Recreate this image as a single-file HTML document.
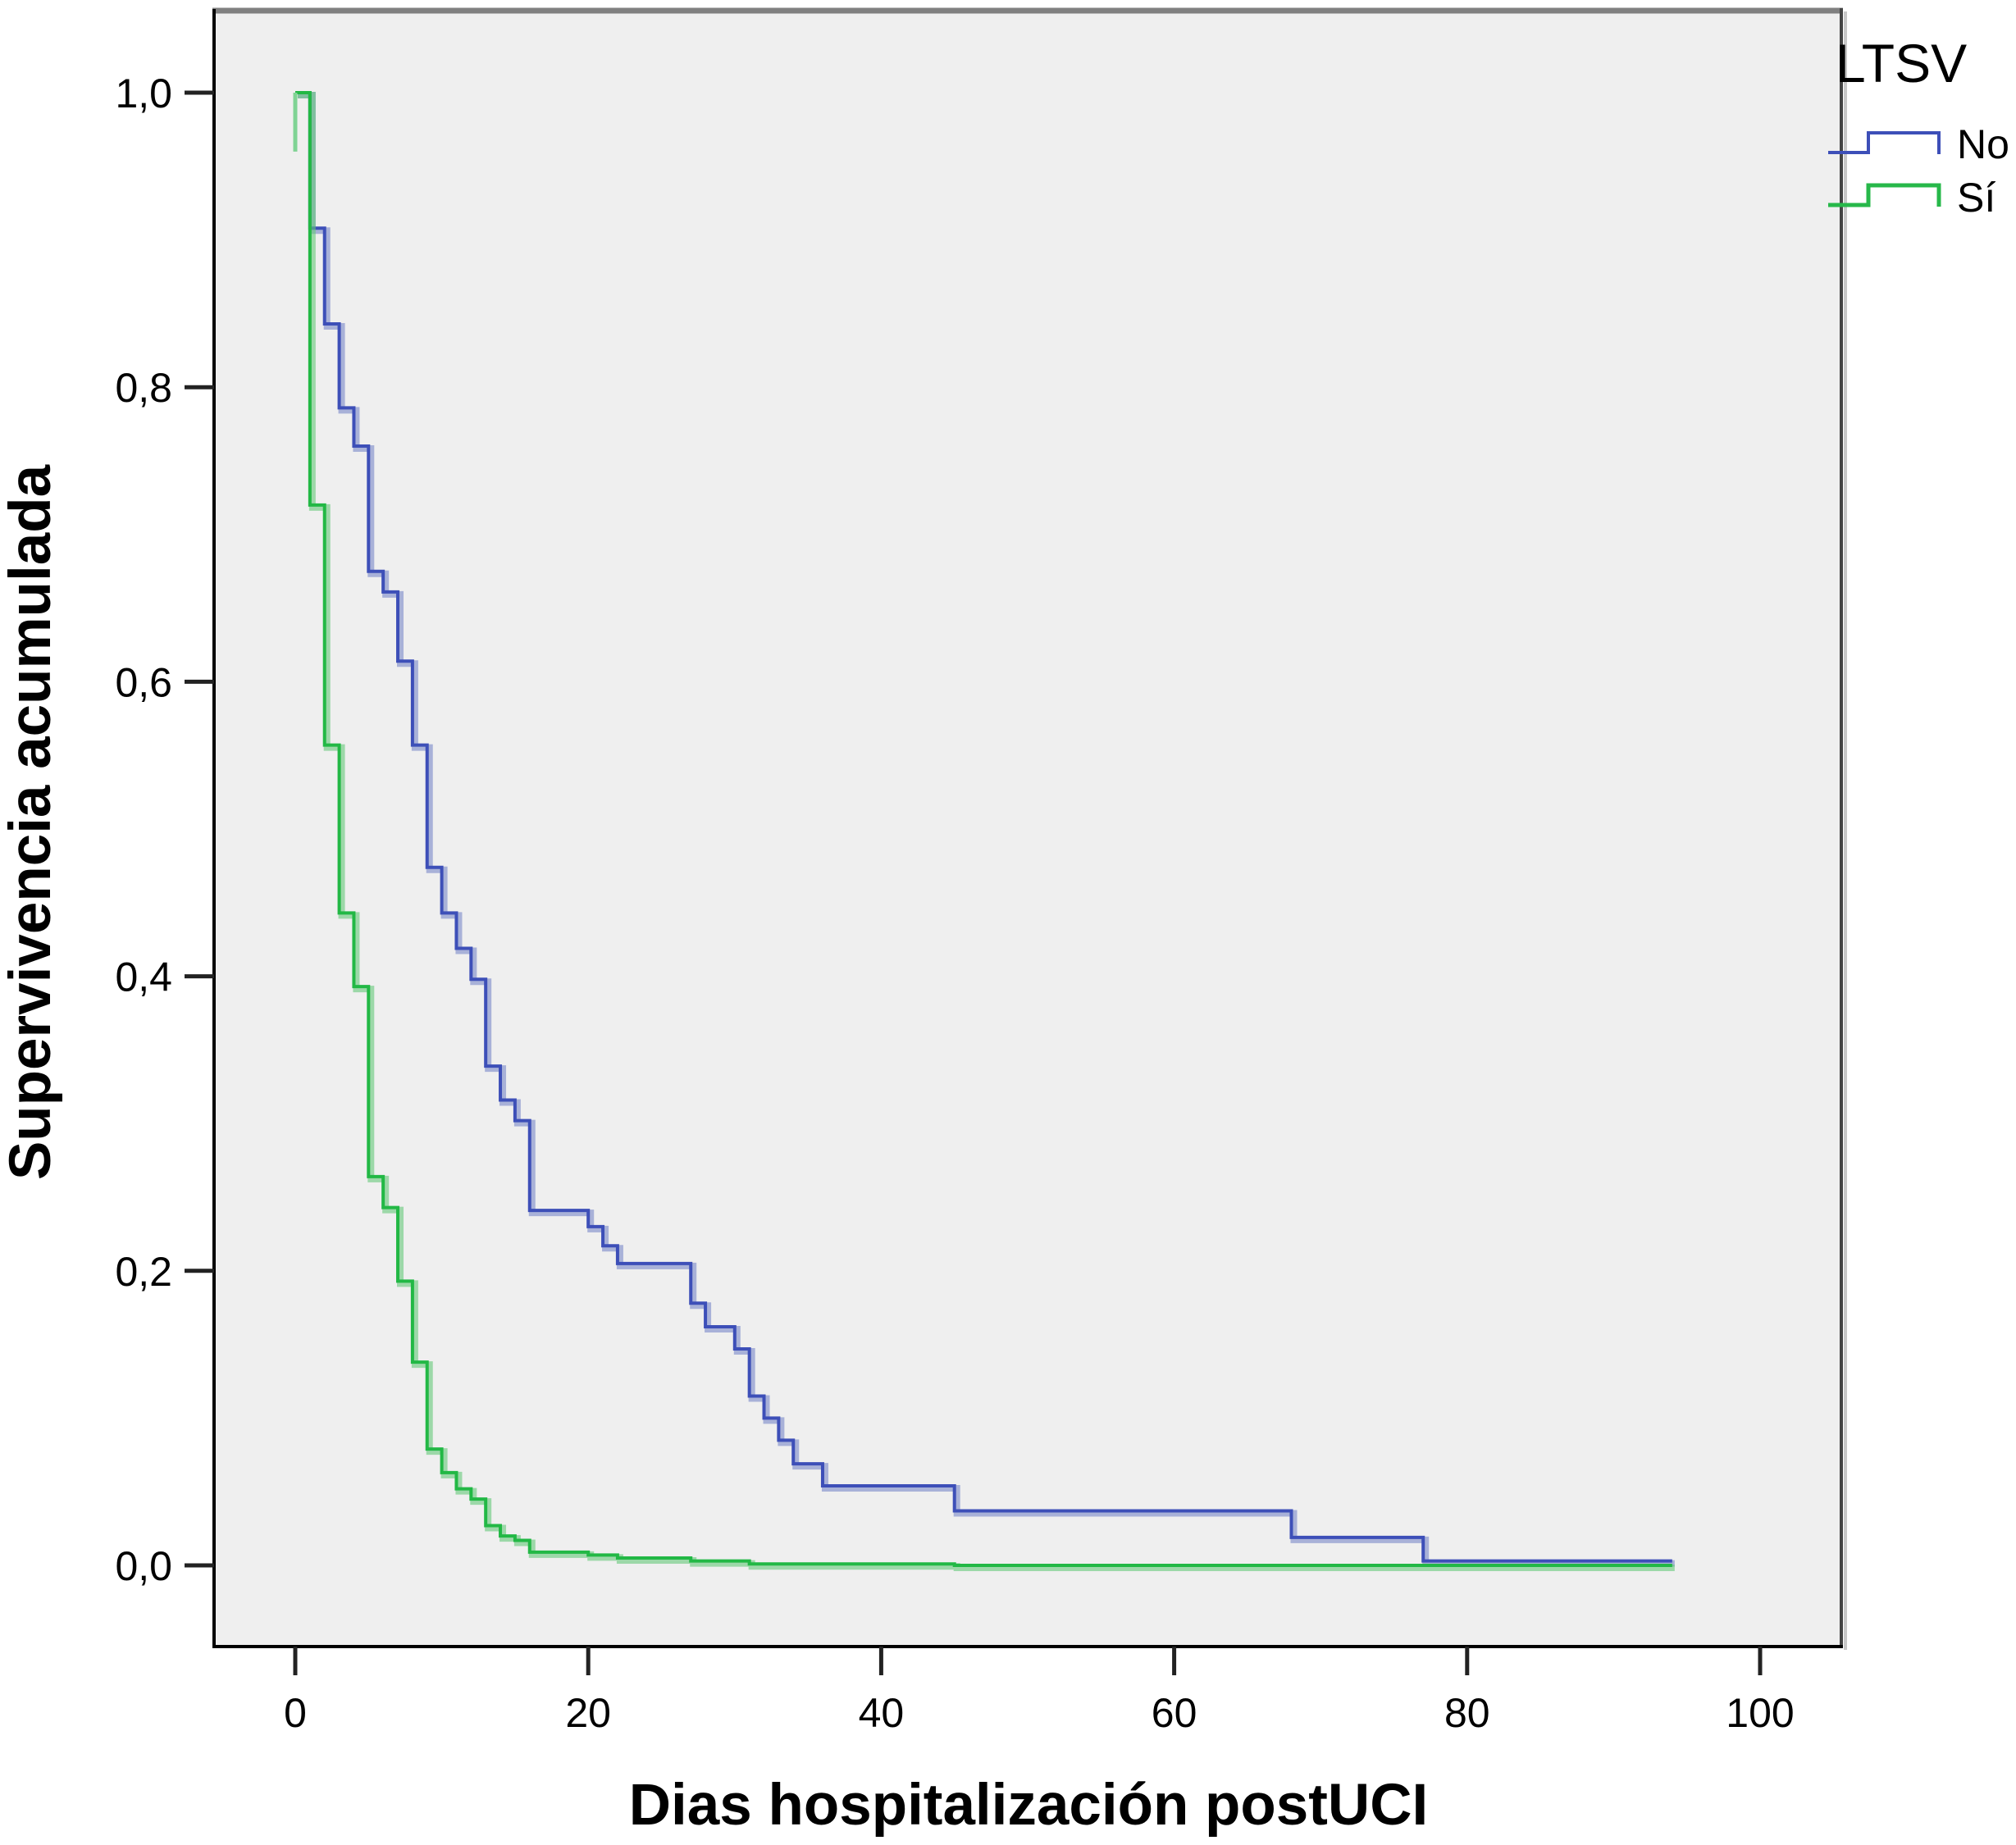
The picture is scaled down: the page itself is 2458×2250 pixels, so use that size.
<!DOCTYPE html>
<html><head><meta charset="utf-8"><style>
html,body{margin:0;padding:0;background:#fff;}
svg{display:block;}
text{font-family:"Liberation Sans",sans-serif;fill:#000;}
</style></head><body>
<svg id="chart" width="2458" height="2250" viewBox="0 0 2458 2250" xmlns="http://www.w3.org/2000/svg">
<rect x="261" y="13" width="1984" height="1995" fill="#efefef"/>
<line x1="259" y1="13" x2="2247" y2="13" stroke="#808080" stroke-width="7"/>
<line x1="2245" y1="10" x2="2245" y2="2010" stroke="#444" stroke-width="4"/>
<line x1="2250" y1="14" x2="2250" y2="2012" stroke="#c8c8c8" stroke-width="4"/>
<line x1="261" y1="11" x2="261" y2="2010" stroke="#000" stroke-width="4"/>
<line x1="259" y1="2008" x2="2247" y2="2008" stroke="#000" stroke-width="4"/>
<g id="yticks"></g><g id="xticks"></g>
<g id="series"></g>
<text x="42" y="1003" font-size="71" font-weight="bold" text-anchor="middle" transform="rotate(-90 42 1003)" dominant-baseline="middle">Supervivencia acumulada</text>
<text x="1254" y="2225" font-size="71" font-weight="bold" text-anchor="middle">Dias hospitalización postUCI</text>
<g>
<text x="2238" y="100" font-size="66">LTSV</text>
<polyline points="2229,186 2278,186 2278,162 2364,162 2364,188" fill="none" stroke="#3d4fb8" stroke-width="4"/>
<text x="2386" y="193" font-size="50">No</text>
<polyline points="2229,250 2278,250 2278,226 2364,226 2364,252" fill="none" stroke="#27b84a" stroke-width="5"/>
<text x="2386" y="258" font-size="50">Sí</text>
</g>
</svg>
<script>
const yTickVals=[0,0.2,0.4,0.6,0.8,1.0];
const yTickLabels=["0,0","0,2","0,4","0,6","0,8","1,0"];
const xTickVals=[0,20,40,60,80,100];
const xTickLabels=["0","20","40","60","80","100"];
const noTimes=[0,1,2,3,4,5,6,7,8,9,10,11,12,13,14,15,16,20,21,22,27,28,30,31,32,33,34,36,45,68,77];
const noSurv=[1.0,0.908,0.843,0.786,0.760,0.675,0.661,0.614,0.557,0.474,0.443,0.419,0.398,0.339,0.316,0.302,0.241,0.230,0.217,0.205,0.178,0.162,0.147,0.115,0.100,0.085,0.069,0.054,0.037,0.019,0.003];
const noEnd=94;
const siTimes=[0,1,2,3,4,5,6,7,8,9,10,11,12,13,14,15,16,20,22,27,31,45];
const siSurv=[1.0,0.720,0.557,0.443,0.393,0.264,0.243,0.193,0.138,0.079,0.063,0.052,0.045,0.027,0.020,0.017,0.009,0.007,0.005,0.003,0.001,0.0];
const siEnd=94;
const siStartTick=0.96;

const NS="http://www.w3.org/2000/svg";
function xs(v){return 360+v*17.86;}
function ys(v){return 1909-v*1796;}
function mk(tag,attrs,parent){const e=document.createElementNS(NS,tag);for(const k in attrs)e.setAttribute(k,attrs[k]);parent.appendChild(e);return e;}
const yg=document.getElementById('yticks');
yTickVals.forEach((v,i)=>{
  const l=mk('line',{x1:225,x2:261,y1:ys(v),y2:ys(v),stroke:'#222','stroke-width':5},yg);
  
  
  const t=mk('text',{x:210,y:ys(v)+18,'font-size':50,'text-anchor':'end'},yg);
  t.textContent=yTickLabels[i];
  
  
});
const xg=document.getElementById('xticks');
xTickVals.forEach((v,i)=>{
  const l=mk('line',{x1:xs(v),x2:xs(v),y1:2008,y2:2043,stroke:'#222','stroke-width':5},xg);
  
  
  const t=mk('text',{x:xs(v),y:2106,'font-size':50,'text-anchor':'middle'},xg);
  t.textContent=xTickLabels[i];
  
  
});
function stepPts(times,surv,end){
  const p=[];
  for(let i=0;i<times.length;i++){
    if(i>0)p.push([xs(times[i]),ys(surv[i-1])]);
    p.push([xs(times[i]),ys(surv[i])]);
  }
  p.push([xs(end),ys(surv[surv.length-1])]);
  return p;
}
const sg=document.getElementById('series');
function draw(times,surv,end,dark,light,name){
  const pts=stepPts(times,surv,end);
  const sh=mk('polyline',{points:pts.map(q=>(q[0]+3)+','+(q[1]+3)).join(' '),fill:'none',stroke:light,'stroke-width':8,'stroke-linejoin':'miter'},sg);
  
  
  const ln=mk('polyline',{points:pts.map(q=>q[0]+','+q[1]).join(' '),fill:'none',stroke:dark,'stroke-width':4,'stroke-linejoin':'miter'},sg);
  
  
}
draw(noTimes,noSurv,noEnd,'#3d4fb8','rgba(120,135,200,0.6)','survival-line-no');
draw(siTimes,siSurv,siEnd,'#22b845','rgba(100,200,120,0.6)','survival-line-si');
const st=mk('line',{x1:xs(0),x2:xs(0),y1:ys(siStartTick),y2:ys(1.0),stroke:'#7fd394','stroke-width':5},sg);


</script>
</body></html>
